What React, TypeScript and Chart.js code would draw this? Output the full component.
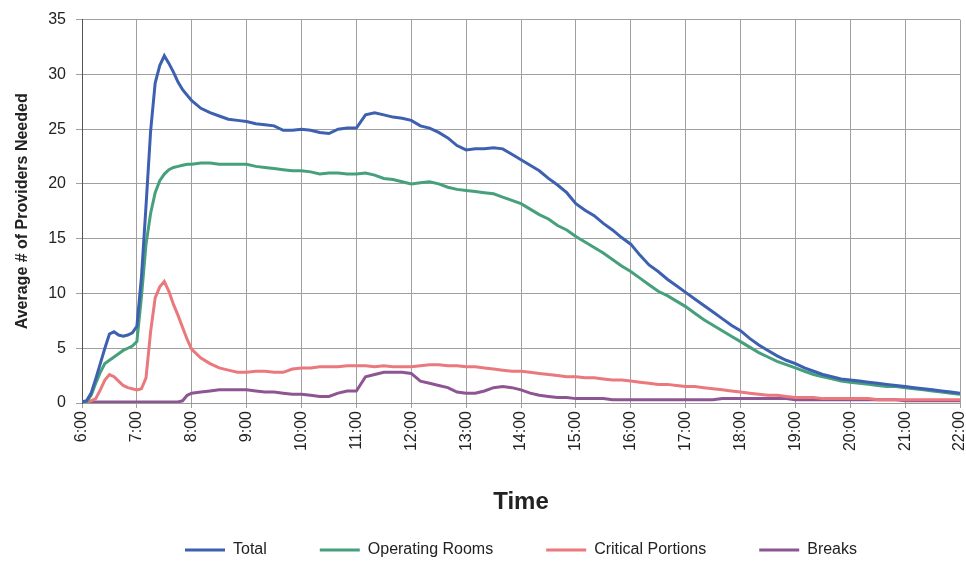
import React, { useEffect, useRef } from "react";
import { Chart, registerables } from "chart.js";

Chart.register(...registerables);

// minutes since midnight
const times = [
  360, 365, 370, 375, 380, 385, 390, 395, 400, 405, 410, 415, 420, 425, 430, 435, 440, 445, 450, 455, 460, 465, 470, 475, 480,
  490, 500, 510, 520, 530,
  540, 550, 560, 570, 580, 590,
  600, 610, 620, 630, 640, 650,
  660, 670, 680, 690, 700, 710,
  720, 730, 740, 750, 760, 770,
  780, 790, 800, 810, 820, 830,
  840, 850, 860, 870, 880, 890,
  900, 910, 920, 930, 940, 950,
  960, 970, 980, 990, 1000, 1010,
  1020, 1030, 1040, 1050, 1060, 1070,
  1080, 1090, 1100, 1110, 1120, 1130,
  1140, 1150, 1160, 1170, 1180, 1190,
  1200, 1210, 1220, 1230, 1240, 1250,
  1260, 1270, 1280, 1290, 1300, 1310,
  1320,
];

const total = [
  0.1, 0.2, 0.9, 2.2, 3.6, 5.0, 6.3, 6.5, 6.2, 6.1, 6.2, 6.4, 7.0, 11.5, 18.0, 24.8, 29.2, 30.8, 31.7, 31.0, 30.2, 29.3, 28.6, 28.1, 27.6,
  26.9, 26.5, 26.2, 25.9, 25.8,
  25.7, 25.5, 25.4, 25.3, 24.9, 24.9,
  25.0, 24.9, 24.7, 24.6, 25.0, 25.1,
  25.1, 26.3, 26.5, 26.3, 26.1, 26.0,
  25.8, 25.3, 25.1, 24.7, 24.2, 23.5,
  23.1, 23.2, 23.2, 23.3, 23.2, 22.7,
  22.2, 21.7, 21.2, 20.5, 19.9, 19.2,
  18.2, 17.6, 17.1, 16.4, 15.8, 15.1,
  14.5, 13.5, 12.6, 12.0, 11.3, 10.7,
  10.1, 9.5, 8.9, 8.3, 7.7, 7.1,
  6.6, 5.9, 5.3, 4.8, 4.3, 3.9,
  3.6, 3.2, 2.9, 2.6, 2.4, 2.2,
  2.1, 2.0, 1.9, 1.8, 1.7, 1.6,
  1.5, 1.4, 1.3, 1.2, 1.1, 1.0,
  0.9,
];

const operatingRooms = [
  0.0, 0.1, 0.7, 1.8, 2.8, 3.6, 3.9, 4.2, 4.5, 4.8, 5.0, 5.2, 5.6, 9.7, 14.5, 17.3, 19.2, 20.3, 20.9, 21.3, 21.5, 21.6, 21.7, 21.8, 21.8,
  21.9, 21.9, 21.8, 21.8, 21.8,
  21.8, 21.6, 21.5, 21.4, 21.3, 21.2,
  21.2, 21.1, 20.9, 21.0, 21.0, 20.9,
  20.9, 21.0, 20.8, 20.5, 20.4, 20.2,
  20.0, 20.1, 20.2, 20.0, 19.7, 19.5,
  19.4, 19.3, 19.2, 19.1, 18.8, 18.5,
  18.2, 17.7, 17.2, 16.8, 16.2, 15.8,
  15.2, 14.7, 14.2, 13.7, 13.1, 12.5,
  12.0, 11.4, 10.8, 10.2, 9.8, 9.3,
  8.8, 8.2, 7.6, 7.1, 6.6, 6.1,
  5.6, 5.1, 4.6, 4.2, 3.8, 3.5,
  3.2, 2.9, 2.6, 2.4, 2.2, 2.0,
  1.9, 1.8, 1.7, 1.6, 1.5, 1.5,
  1.4, 1.3, 1.2, 1.1, 1.0, 0.9,
  0.8,
];

const criticalPortions = [
  0.1, 0.1, 0.2, 0.4, 1.2, 2.1, 2.6, 2.4, 2.0, 1.6, 1.4, 1.3, 1.2, 1.3, 2.3, 6.5, 9.6, 10.6, 11.1, 10.2, 9.0, 8.0, 6.9, 5.8, 4.9,
  4.1, 3.6, 3.2, 3.0, 2.8,
  2.8, 2.9, 2.9, 2.8, 2.8, 3.1,
  3.2, 3.2, 3.3, 3.3, 3.3, 3.4,
  3.4, 3.4, 3.3, 3.4, 3.3, 3.3,
  3.3, 3.4, 3.5, 3.5, 3.4, 3.4,
  3.3, 3.3, 3.2, 3.1, 3.0, 2.9,
  2.9, 2.8, 2.7, 2.6, 2.5, 2.4,
  2.4, 2.3, 2.3, 2.2, 2.1, 2.1,
  2.0, 1.9, 1.8, 1.7, 1.7, 1.6,
  1.5, 1.5, 1.4, 1.3, 1.2, 1.1,
  1.0, 0.9, 0.8, 0.7, 0.7, 0.6,
  0.5, 0.5, 0.5, 0.4, 0.4, 0.4,
  0.4, 0.4, 0.4, 0.3, 0.3, 0.3,
  0.3, 0.3, 0.3, 0.3, 0.3, 0.3,
  0.3,
];

const breaks = [
  0.1, 0.1, 0.1, 0.1, 0.1, 0.1, 0.1, 0.1, 0.1, 0.1, 0.1, 0.1, 0.1, 0.1, 0.1, 0.1, 0.1, 0.1, 0.1, 0.1, 0.1, 0.1, 0.2, 0.7, 0.9,
  1.0, 1.1, 1.2, 1.2, 1.2,
  1.2, 1.1, 1.0, 1.0, 0.9, 0.8,
  0.8, 0.7, 0.6, 0.6, 0.9, 1.1,
  1.1, 2.4, 2.6, 2.8, 2.8, 2.8,
  2.7, 2.0, 1.8, 1.6, 1.4, 1.0,
  0.9, 0.9, 1.1, 1.4, 1.5, 1.4,
  1.2, 0.9, 0.7, 0.6, 0.5, 0.5,
  0.4, 0.4, 0.4, 0.4, 0.3, 0.3,
  0.3, 0.3, 0.3, 0.3, 0.3, 0.3,
  0.3, 0.3, 0.3, 0.3, 0.4, 0.4,
  0.4, 0.4, 0.4, 0.4, 0.4, 0.4,
  0.3, 0.3, 0.3, 0.3, 0.3, 0.3,
  0.3, 0.3, 0.3, 0.3, 0.3, 0.3,
  0.2, 0.2, 0.2, 0.2, 0.2, 0.2,
  0.2,
];

const seriesNames = ["Total", "Operating Rooms", "Critical Portions", "Breaks"];
const seriesColors = ["#3d60b0", "#46a07c", "#ea787c", "#8d5693"];
const yTicks = { min: 0, max: 35, step: 5 };
const xRange = { min: 360, max: 1320, step: 60 };

const FONT = "'Liberation Sans', Arial, Helvetica, sans-serif";

const legendPlacer = {
  id: "legendPlacer",
  afterLayout(chart: any) {
    const lg = chart.legend;
    if (!lg) return;
    lg.left = chart.chartArea.left;
    lg.right = chart.chartArea.right;
    lg.top = 489;
    lg.bottom = 561;
  },
};

export default function App() {
  const ref = useRef<HTMLCanvasElement | null>(null);

  useEffect(() => {
    if (!ref.current) return;
    const allSeries = [total, operatingRooms, criticalPortions, breaks];
    const chart = new Chart(ref.current, {
      type: "line",
      data: {
        datasets: allSeries.map((vals, k) => ({
          label: seriesNames[k],
          data: times.map((t, i) => ({ x: t, y: vals[i] })),
          borderColor: seriesColors[k],
          backgroundColor: seriesColors[k],
          borderWidth: 3,
          pointRadius: 0,
          tension: 0,
          fill: false,
        })),
      },
      options: {
        animation: false,
        responsive: true,
        maintainAspectRatio: false,
        layout: { padding: { left: 0, right: 6, top: 18, bottom: 0 } },
        plugins: {
          tooltip: { enabled: false },
          legend: {
            position: "bottom",
            maxHeight: 50,
            labels: {
              usePointStyle: true,
              pointStyle: "line",
              pointStyleWidth: 40,
              padding: 53,
              color: "#222",
              font: { family: FONT, size: 16 },
            },
          },
        },
        scales: {
          x: {
            type: "linear",
            min: xRange.min,
            max: xRange.max,
            afterFit: (s: any) => {
              s.height = 108;
              s.paddingLeft = 0;
              s.paddingRight = 0;
            },
            ticks: {
              stepSize: xRange.step,
              minRotation: 90,
              maxRotation: 90,
              padding: 3,
              color: "#222",
              font: { family: FONT, size: 16 },
              callback: (v: any) => `${Math.round(Number(v) / 60)}:00`,
            },
            grid: { color: "#a0a0a0", lineWidth: 1, tickLength: 5 },
            border: { color: "#999" },
            title: {
              display: true,
              text: "Time",
              color: "#222",
              font: { family: FONT, size: 24, weight: "bold", lineHeight: 1.0 },
              padding: { top: 0, bottom: -3 },
            },
          },
          y: {
            min: yTicks.min,
            max: yTicks.max,
            afterFit: (s: any) => {
              s.width = 82;
            },
            ticks: {
              stepSize: yTicks.step,
              padding: 10,
              color: "#222",
              font: { family: FONT, size: 16 },
            },
            grid: { color: "#a0a0a0", lineWidth: 1, tickLength: 6 },
            border: { color: "#555" },
            title: {
              display: true,
              text: "Average # of Providers Needed",
              color: "#222",
              font: { family: FONT, size: 16, weight: "bold" },
              padding: { top: 13, bottom: 0 },
            },
          },
        },
      },
      plugins: [legendPlacer],
    });
    return () => chart.destroy();
  }, []);

  return (
    <div style={{ position: "absolute", left: 0, top: 0, width: 966, height: 561, background: "#fff" }}>
      <canvas ref={ref} />
    </div>
  );
}
